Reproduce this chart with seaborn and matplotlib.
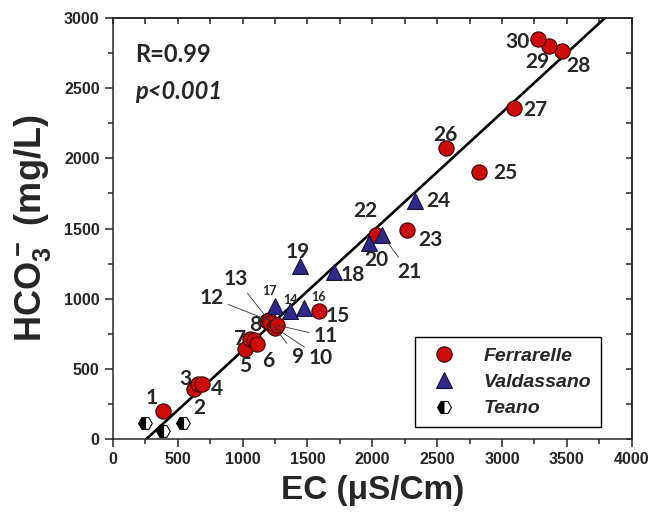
import seaborn as sns
import matplotlib.pyplot as plt
from matplotlib.lines import Line2D
from matplotlib.markers import MarkerStyle
from matplotlib.ticker import MultipleLocator

# Ferrarelle samples: id, EC (uS/cm), HCO3 (mg/L)
ferr_id = ['1', '2', '3', '4', '5', '7', '', '6', '8', '12', '13', '10', '9', '11',
           '15', '22', '23', '25', '26', '27', '28', '29', '30']
ferr_ec = [387, 626, 656, 687, 1015, 1054, 1092, 1112, 1190, 1205, 1215, 1240, 1252, 1262,
           1592, 2028, 2267, 2823, 2567, 3092, 3464, 3362, 3280]
ferr_hco3 = [202, 355, 393, 391, 638, 714, 707, 678, 838, 845, 830, 800, 790, 812,
             909, 1457, 1486, 1900, 2076, 2362, 2766, 2802, 2850]

# Valdassano samples
vald_id = ['14', '16', '17', '18', '19', '20', '21', '24']
vald_ec = [1369, 1477, 1251, 1708, 1443, 1975, 2072, 2331]
vald_hco3 = [909, 933, 945, 1188, 1230, 1395, 1457, 1695]

# Teano samples (unlabelled)
teano_ec = [251, 387, 541]
teano_hco3 = [112, 57, 116]

# regression line
slope = 0.849
intercept = -220

red = '#CC0A0A'
blue = '#2E2A8A'

sns.set_style('ticks')
plt.rcParams['font.family'] = ['Liberation Sans', 'DejaVu Sans']
plt.rcParams['font.weight'] = 'bold'

fig, ax = plt.subplots(figsize=(6.56, 5.17), dpi=100)
fig.subplots_adjust(left=0.172, right=0.963, bottom=0.151, top=0.965)

ax.axline((0, intercept), slope=slope, color='black', lw=1.9, zorder=2)

sns.scatterplot(x=teano_ec, y=teano_hco3, marker='H', s=95, color='white',
                edgecolor='black', linewidth=0.8, ax=ax, zorder=3)
sns.scatterplot(x=teano_ec, y=teano_hco3, marker=MarkerStyle('H', fillstyle='left'), s=95,
                color='black', edgecolor='black', linewidth=0.8, ax=ax, zorder=3)
sns.scatterplot(x=ferr_ec, y=ferr_hco3, marker='o', s=120, color=red,
                edgecolor='#3A0000', linewidth=0.8, ax=ax, zorder=4)
sns.scatterplot(x=vald_ec, y=vald_hco3, marker='^', s=130, color=blue,
                edgecolor='#15103F', linewidth=0.8, ax=ax, zorder=5)

# sample numbers
label_pos = {
    '1': (300, 293), '2': (664, 219), '3': (562, 426), '4': (802, 355),
    '5': (1023, 521), '6': (1200, 559), '7': (977, 712), '8': (1100, 814),
    '9': (1420, 585), '10': (1605, 576), '11': (1640, 731), '12': (759, 1005),
    '13': (951, 1141), '14': (1369, 993), '15': (1733, 879), '16': (1587, 1012),
    '17': (1208, 1052), '18': (1849, 1171), '19': (1426, 1331), '20': (2028, 1279),
    '21': (2285, 1193), '22': (1946, 1624), '23': (2451, 1421), '24': (2508, 1695),
    '25': (3023, 1893), '26': (2567, 2164), '27': (3259, 2345), '28': (3592, 2659),
    '29': (3272, 2688), '30': (3118, 2831),
}
leaders = ['9', '10', '11', '12', '13', '21']
small = ['14', '16', '17']

points = dict(zip(ferr_id, zip(ferr_ec, ferr_hco3)))
points.update(dict(zip(vald_id, zip(vald_ec, vald_hco3))))

for lab, (tx, ty) in label_pos.items():
    size = 9 if lab in small else 15
    kw = dict(ha='center', va='center', fontsize=size, fontweight='bold',
              family='Lato', zorder=6)
    if lab in leaders:
        ax.annotate(lab, xy=points[lab], xytext=(tx, ty),
                    arrowprops=dict(arrowstyle='-', lw=0.6, color='#333333',
                                    shrinkA=1, shrinkB=0), **kw)
    else:
        ax.text(tx, ty, lab, **kw)

ax.text(169, 2743, 'R=0.99', fontsize=17, fontweight='bold', family='Lato', va='center')
ax.text(169, 2479, 'p<0.001', fontsize=17, fontweight='bold', style='italic',
        family='Lato', va='center')

ax.set_xlim(0, 4000)
ax.set_ylim(0, 3000)
ax.xaxis.set_major_locator(MultipleLocator(500))
ax.xaxis.set_minor_locator(MultipleLocator(250))
ax.yaxis.set_major_locator(MultipleLocator(500))
ax.yaxis.set_minor_locator(MultipleLocator(250))
ax.tick_params(which='major', direction='out', length=6, width=1.1, labelsize=11.5)
ax.tick_params(which='minor', direction='out', length=3.5, width=1.1)
for lbl in ax.get_xticklabels() + ax.get_yticklabels():
    lbl.set_fontweight('bold')

for side in ['top', 'right']:
    sec = ax.secondary_xaxis('top') if side == 'top' else ax.secondary_yaxis('right')
    axis = sec.xaxis if side == 'top' else sec.yaxis
    axis.set_major_locator(MultipleLocator(500))
    axis.set_minor_locator(MultipleLocator(250))
    sec.tick_params(which='both', direction='in', length=4, width=1.1,
                    labeltop=False, labelright=False)
    for sp in sec.spines.values():
        sp.set_linewidth(1.1)

for sp in ax.spines.values():
    sp.set_linewidth(1.1)
    sp.set_visible(True)

ax.set_xlabel('EC (\u03bcS/Cm)', fontsize=24, fontweight='bold', labelpad=6)
ax.set_ylabel(r'$\mathregular{HCO_3^-}$ (mg/L)', fontsize=26, fontweight='bold', labelpad=8)

handles = [
    Line2D([], [], ls='', marker='o', ms=11, mfc=red, mec='#3A0000', mew=0.8),
    Line2D([], [], ls='', marker='^', ms=11, mfc=blue, mec='#15103F', mew=0.8),
    Line2D([], [], ls='', marker='H', ms=10, fillstyle='left', mfc='black',
           markerfacecoloralt='white', mec='black', mew=0.8),
]
leg = ax.legend(handles, ['Ferrarelle', 'Valdassano', 'Teano'], loc='lower right',
                bbox_to_anchor=(0.94, 0.028), borderaxespad=0, fancybox=False,
                edgecolor='black', framealpha=1, handletextpad=1.0, borderpad=0.5,
                labelspacing=0.45, handlelength=2.0,
                prop=dict(family='Liberation Sans', weight='bold', style='italic', size=14))
leg.get_frame().set_linewidth(1.0)

plt.savefig('out.png', dpi=100)
